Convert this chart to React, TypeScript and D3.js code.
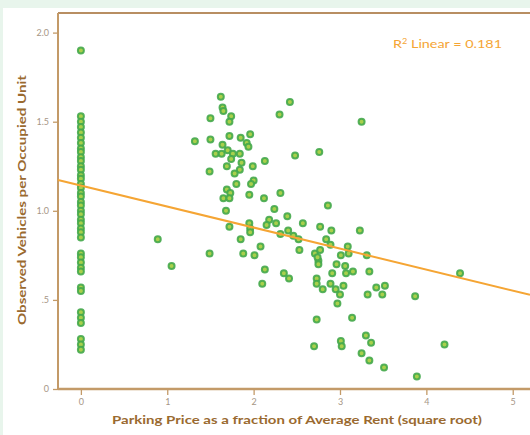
import React, { useEffect, useRef } from "react";
import * as d3 from "d3";

const width = 530;
const height = 435;
const plot = { left: 58, top: 13, right: 530, bottom: 389 };

// observations with zero parking price (all sit on x = 0)
const zeroPriceVehicles = [
  1.9, 1.53, 1.5, 1.47, 1.44, 1.41, 1.38, 1.35, 1.33, 1.3, 1.28, 1.25, 1.23,
  1.2, 1.18, 1.15, 1.13, 1.1, 1.08, 1.05, 1.03, 1.0, 0.98, 0.95, 0.93, 0.9,
  0.88, 0.85, 0.76, 0.74, 0.71, 0.68, 0.66, 0.57, 0.55, 0.43, 0.4, 0.37, 0.28,
  0.25, 0.22
];

// priced observations: x = sqrt(price / rent), y = vehicles per unit
const pricedX = [
  0.89, 1.05, 1.62, 1.64, 1.65, 1.74, 1.72, 1.5, 2.42, 2.3, 3.25, 1.32, 1.5,
  1.72, 1.85, 1.96, 1.92, 1.94, 1.64, 1.56, 1.63, 1.7, 1.76, 1.84, 1.74, 1.86,
  1.69, 1.84, 1.99, 2.13, 2.48, 2.76, 1.49, 1.78, 2.0, 1.97, 1.8, 1.69, 1.73,
  1.65, 1.72, 1.95, 2.12, 2.31, 1.68, 2.86, 2.24, 2.39, 2.18, 2.57, 2.77, 1.72,
  1.95, 1.96, 2.15, 2.26, 2.4, 2.31, 2.46, 2.9, 3.23, 1.85, 2.08, 1.49, 1.88,
  2.01, 2.13, 2.1, 2.35, 2.41, 2.53, 2.52, 2.84, 2.89, 3.09, 3.1, 3.01, 3.31,
  2.71, 2.77, 2.75, 2.75, 2.96, 3.06, 2.91, 3.07, 3.15, 3.34, 2.73, 2.73, 2.8,
  2.89, 2.95, 3.0, 3.04, 2.97, 3.42, 3.52, 3.49, 3.32, 3.87, 2.73, 3.14, 2.7,
  3.01, 3.02, 3.3, 3.36, 3.25, 3.34, 3.51, 3.89, 4.39, 4.21, 1.96, 2.74
];
const pricedY = [
  0.84, 0.69, 1.64, 1.58, 1.56, 1.53, 1.5, 1.52, 1.61, 1.54, 1.5, 1.39, 1.4,
  1.42, 1.41, 1.43, 1.38, 1.36, 1.37, 1.32, 1.32, 1.34, 1.32, 1.32, 1.29, 1.27,
  1.25, 1.23, 1.25, 1.28, 1.31, 1.33, 1.22, 1.21, 1.17, 1.15, 1.15, 1.12, 1.1,
  1.07, 1.07, 1.09, 1.07, 1.1, 1.0, 1.03, 1.01, 0.97, 0.95, 0.93, 0.91, 0.91,
  0.93, 0.9, 0.92, 0.93, 0.89, 0.87, 0.86, 0.89, 0.89, 0.84, 0.8, 0.76, 0.76,
  0.75, 0.67, 0.59, 0.65, 0.62, 0.78, 0.84, 0.84, 0.81, 0.8, 0.76, 0.75, 0.75,
  0.76, 0.78, 0.72, 0.7, 0.7, 0.69, 0.65, 0.65, 0.66, 0.66, 0.62, 0.59, 0.56,
  0.59, 0.56, 0.53, 0.58, 0.48, 0.57, 0.58, 0.53, 0.53, 0.52, 0.39, 0.4, 0.24,
  0.27, 0.24, 0.3, 0.26, 0.2, 0.16, 0.12, 0.07, 0.65, 0.25, 0.88, 0.74
];

const xTicks = [0, 1, 2, 3, 4, 5];
const yTicks = [0, 0.5, 1, 1.5, 2];
const yTickLabels = ["0", ".5", "1.0", "1.5", "2.0"];

// fit line
const fitIntercept = 1.142;
const fitSlope = -0.118;
const rSquared = "0.181";

const axisColor = "#c39a68";
const titleColor = "#9a6a30";
const fitColor = "#f5a534";

export default function App() {
  const xAxisRef = useRef<SVGGElement>(null);
  const yAxisRef = useRef<SVGGElement>(null);

  const xScale = d3.scaleLinear().domain([-0.265, 5.2]).range([plot.left, plot.right]);
  const yScale = d3.scaleLinear().domain([0, 2.11]).range([plot.bottom, plot.top]);

  const points = [
    ...zeroPriceVehicles.map(v => [0, v]),
    ...pricedX.map((x, i) => [x, pricedY[i]])
  ];

  const fitLine = d3
    .line<number>()
    .x(d => xScale(d))
    .y(d => yScale(fitIntercept + fitSlope * d))(xScale.domain());

  useEffect(() => {
    const xAxis = d3
      .axisBottom(xScale)
      .tickValues(xTicks)
      .tickSize(6)
      .tickPadding(4)
      .tickFormat(d => String(d));
    const yAxis = d3
      .axisLeft(yScale)
      .tickValues(yTicks)
      .tickSize(5)
      .tickPadding(4)
      .tickFormat((d, i) => yTickLabels[i]);

    for (const [ref, axis] of [
      [xAxisRef, xAxis],
      [yAxisRef, yAxis]
    ] as const) {
      const g = d3.select(ref.current!);
      g.call(axis as any);
      g.select(".domain").remove();
      g.selectAll("line").attr("stroke", axisColor).attr("stroke-width", 1.3);
      g.selectAll("text")
        .attr("fill", "#a69686")
        .style("font-family", "Lato, sans-serif")
        .style("font-size", "9px");
    }
  }, []);

  return (
    <div>
      <style>{"body{margin:0}"}</style>
      <svg width={width} height={height} style={{ display: "block" }}>
        <rect x={0} y={0} width={width} height={height} fill="#e8f5ec" />
        <rect x={3} y={8} width={width} height={height} fill="#ffffff" />

        <line x1={plot.left} x2={plot.right} y1={plot.top} y2={plot.top} stroke="#b88e62" strokeWidth={2} />
        <line x1={plot.left} x2={plot.left} y1={plot.top} y2={plot.bottom} stroke={axisColor} strokeWidth={2} />

        <g>
          {points.map(([x, y], i) => (
            <circle
              key={i}
              cx={xScale(x)}
              cy={yScale(y)}
              r={3}
              fill="#a9d04c"
              stroke="#44a84c"
              strokeWidth={2}
              strokeOpacity={0.9}
            />
          ))}
        </g>

        <path d={fitLine ?? ""} fill="none" stroke={fitColor} strokeWidth={2} />

        <line x1={plot.left} x2={plot.right} y1={plot.bottom} y2={plot.bottom} stroke={axisColor} strokeWidth={2.5} />
        <g ref={xAxisRef} transform={`translate(0, ${plot.bottom})`} />
        <g ref={yAxisRef} transform={`translate(${plot.left}, 0)`} />

        <text
          x={393}
          y={48}
          fill={fitColor}
          style={{ fontFamily: "Lato, sans-serif", fontSize: 11 }}
          textLength={109}
          lengthAdjust="spacingAndGlyphs"
        >
          R<tspan dy={-4} style={{ fontSize: 7 }}>2</tspan>
          <tspan dy={4}> Linear = {rSquared}</tspan>
        </text>

        <text
          x={297}
          y={424}
          textAnchor="middle"
          fill={titleColor}
          style={{ fontFamily: "Lato, sans-serif", fontSize: 12, fontWeight: 700 }}
          textLength={370}
          lengthAdjust="spacingAndGlyphs"
        >
          Parking Price as a fraction of Average Rent (square root)
        </text>
        <text
          transform="translate(26, 200) rotate(-90)"
          textAnchor="middle"
          fill={titleColor}
          style={{ fontFamily: "Lato, sans-serif", fontSize: 12, fontWeight: 700 }}
          textLength={250}
          lengthAdjust="spacingAndGlyphs"
        >
          Observed Vehicles per Occupied Unit
        </text>
      </svg>
    </div>
  );
}
